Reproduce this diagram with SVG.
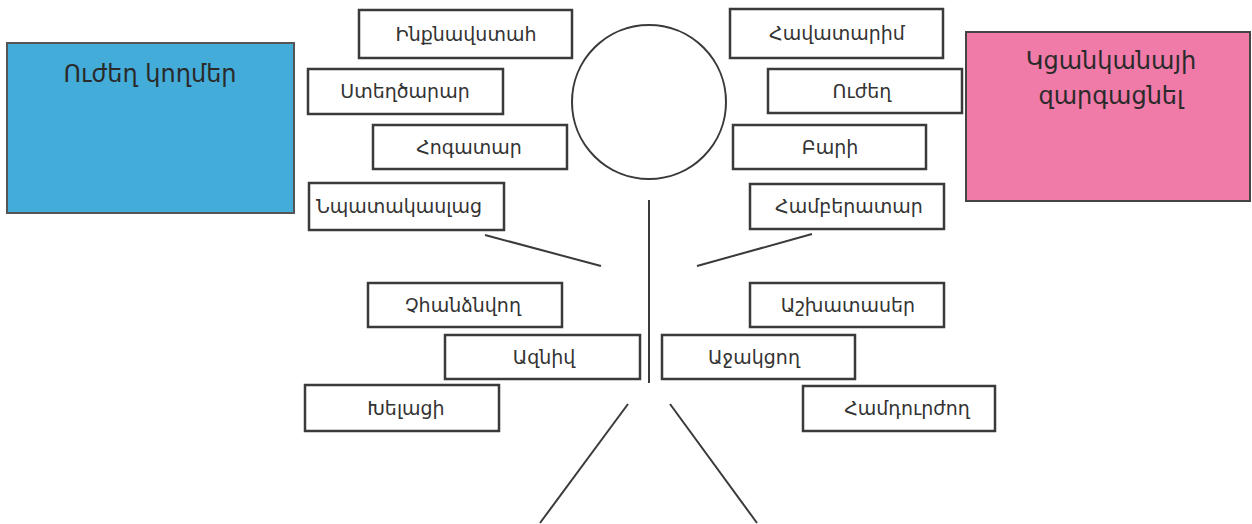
<svg xmlns="http://www.w3.org/2000/svg" width="1252" height="524" viewBox="0 0 1252 524">
<style>
.box{fill:#fff;stroke:#3a3a3a;stroke-width:2.5}
.t{font-family:"DejaVu Sans","Noto Sans",sans-serif;font-size:19px;fill:#333;text-anchor:middle}
.big{font-family:"DejaVu Sans","Noto Sans",sans-serif;font-size:24px;fill:#2a2a2a;text-anchor:middle}
.ln{stroke:#3a3a3a;stroke-width:2;fill:none}
</style>
<rect x="0" y="0" width="1252" height="524" fill="#fff"/>
<g id="strengths">
<rect x="7" y="43" width="287" height="170" fill="#44acd8" stroke="#555" stroke-width="2"/>
<text class="big" x="150" y="82">Ուժեղ կողմեր</text>
</g>
<g id="develop">
<rect x="966" y="32" width="284" height="169" fill="#f07aa8" stroke="#444" stroke-width="2"/>
<text class="big" x="1111" y="69">Կցանկանայի</text>
<text class="big" x="1111" y="104">զարգացնել</text>
</g>
<g id="head"><circle class="ln" cx="649" cy="102" r="77"/></g>
<g id="connectors">
<line class="ln" x1="649" y1="200" x2="649" y2="383"/>
<line class="ln" x1="485" y1="235" x2="601" y2="266"/>
<line class="ln" x1="697" y1="266" x2="812" y2="234"/>
<line class="ln" x1="628" y1="404" x2="540" y2="523"/>
<line class="ln" x1="670" y1="404" x2="757" y2="523"/>
</g>
<g id="n1"><rect class="box" x="359" y="10" width="213" height="48"/><text class="t" x="466" y="41">Ինքնավստահ</text></g>
<g id="n2"><rect class="box" x="308" y="69" width="195" height="45"/><text class="t" x="405" y="98">Ստեղծարար</text></g>
<g id="n3"><rect class="box" x="373" y="125" width="194" height="44"/><text class="t" x="469" y="154">Հոգատար</text></g>
<g id="n4"><rect class="box" x="309" y="183" width="195" height="47"/><text class="t" x="399" y="213">Նպատակասլաց</text></g>
<g id="n5"><rect class="box" x="730" y="9" width="213" height="49"/><text class="t" x="837" y="40">Հավատարիմ</text></g>
<g id="n6"><rect class="box" x="768" y="69" width="194" height="44"/><text class="t" x="862" y="98">Ուժեղ</text></g>
<g id="n7"><rect class="box" x="733" y="125" width="193" height="44"/><text class="t" x="830" y="154">Բարի</text></g>
<g id="n8"><rect class="box" x="750" y="184" width="194" height="45"/><text class="t" x="849" y="213">Համբերատար</text></g>
<g id="n9"><rect class="box" x="368" y="283" width="194" height="44"/><text class="t" x="463" y="312">Չհանձնվող</text></g>
<g id="n10"><rect class="box" x="445" y="335" width="195" height="44"/><text class="t" x="544" y="364">Ազնիվ</text></g>
<g id="n11"><rect class="box" x="305" y="385" width="194" height="46"/><text class="t" x="406" y="415">Խելացի</text></g>
<g id="n12"><rect class="box" x="750" y="283" width="194" height="44"/><text class="t" x="848" y="312">Աշխատասեր</text></g>
<g id="n13"><rect class="box" x="662" y="335" width="193" height="44"/><text class="t" x="754" y="364">Աջակցող</text></g>
<g id="n14"><rect class="box" x="803" y="386" width="192" height="45"/><text class="t" x="907" y="415">Համդուրժող</text></g>
</svg>
